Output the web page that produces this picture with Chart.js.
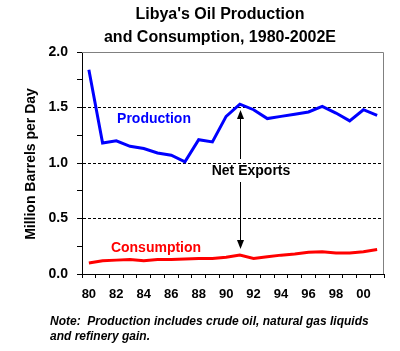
<!DOCTYPE html>
<html>
<head>
<meta charset="utf-8">
<script src="https://cdn.jsdelivr.net/npm/chart.js@4/dist/chart.umd.min.js"></script>
<style>
  html, body { margin: 0; padding: 0; background: #fff; }
  canvas { display: block; }
</style>
</head>
<body>
<canvas id="oilChart" width="400" height="351"></canvas>
<script>
// years 1980-2001, shown as two-digit labels
const years = ['80', '81', '82', '83', '84', '85', '86', '87', '88', '89', '90',
               '91', '92', '93', '94', '95', '96', '97', '98', '99', '00', '01'];
const production = [1.84, 1.18, 1.20, 1.15, 1.13, 1.09, 1.07, 1.01, 1.21, 1.19, 1.42,
                    1.53, 1.48, 1.40, 1.42, 1.44, 1.46, 1.51, 1.45, 1.38, 1.48, 1.43];
const consumption = [0.10, 0.12, 0.125, 0.13, 0.12, 0.13, 0.13, 0.135, 0.14, 0.14, 0.15,
                     0.17, 0.14, 0.155, 0.17, 0.18, 0.195, 0.20, 0.19, 0.19, 0.20, 0.22];
const dashedLevels = [0.5, 1.0, 1.5];

const titleLines = ["Libya's Oil Production", 'and Consumption, 1980-2002E'];
const yTitle = 'Million Barrels per Day';
const noteLines = ['Note:  Production includes crude oil, natural gas liquids', 'and refinery gain.'];

const FONT = '"Liberation Sans", Arial, sans-serif';

// Function to draw an arrow head pointing up (dir -1) or down (dir 1)
function arrowHead(ctx, x, tipY, dir) {
    ctx.beginPath();
    ctx.moveTo(x, tipY);
    ctx.lineTo(x - 3.5, tipY - dir * 9);
    ctx.lineTo(x + 3.5, tipY - dir * 9);
    ctx.closePath();
    ctx.fill();
}

const decorations = {
    id: 'decorations',
    afterDraw(chart) {
        const ctx = chart.ctx;
        const area = chart.chartArea;
        const x = chart.scales.x;
        ctx.save();

        // gray frame on top and right
        ctx.strokeStyle = '#808080';
        ctx.lineWidth = 1;
        ctx.beginPath();
        ctx.moveTo(area.left, area.top + 0.5);
        ctx.lineTo(area.right - 0.5, area.top + 0.5);
        ctx.lineTo(area.right - 0.5, area.bottom);
        ctx.stroke();

        // title
        ctx.fillStyle = '#000';
        ctx.textAlign = 'center';
        ctx.textBaseline = 'alphabetic';
        ctx.font = 'bold 16px ' + FONT;
        ctx.fillText(titleLines[0], 220, 19);
        ctx.fillText(titleLines[1], 220, 42);

        // y axis title
        ctx.save();
        ctx.translate(31, 164);
        ctx.rotate(-Math.PI / 2);
        ctx.textBaseline = 'middle';
        ctx.font = 'bold 14px ' + FONT;
        ctx.fillText(yTitle, 0, 0);
        ctx.restore();

        // series labels
        ctx.textBaseline = 'middle';
        ctx.font = 'bold 14px ' + FONT;
        ctx.fillStyle = '#0000ff';
        ctx.fillText('Production', 154, 119);
        ctx.fillStyle = '#ff0000';
        ctx.fillText('Consumption', 156, 248);
        ctx.fillStyle = '#000';
        ctx.fillText('Net Exports', 251, 171);

        // net exports arrows, between the two lines in 1991
        const ax = Math.round(x.getPixelForValue(11)) + 0.5;
        ctx.strokeStyle = '#000';
        ctx.lineWidth = 1;
        ctx.beginPath();
        ctx.moveTo(ax, 118);
        ctx.lineTo(ax, 159);
        ctx.moveTo(ax, 182);
        ctx.lineTo(ax, 241);
        ctx.stroke();
        arrowHead(ctx, ax, 110, -1);
        arrowHead(ctx, ax, 249, 1);

        // footnote
        ctx.textAlign = 'left';
        ctx.font = 'italic bold 12px ' + FONT;
        ctx.fillText(noteLines[0], 50, 322);
        ctx.fillText(noteLines[1], 50, 337);

        ctx.restore();
    }
};

const ctx = document.getElementById('oilChart').getContext('2d');
new Chart(ctx, {
    type: 'line',
    data: {
        labels: years,
        datasets: [{
            label: 'Production',
            data: production,
            borderColor: '#0000ff',
            borderWidth: 3,
            pointRadius: 0,
            tension: 0
        }, {
            label: 'Consumption',
            data: consumption,
            borderColor: '#ff0000',
            borderWidth: 3,
            pointRadius: 0,
            tension: 0
        }]
    },
    options: {
        responsive: false,
        animation: false,
        layout: { padding: { top: 52, right: 16, left: 0, bottom: 47 } },
        plugins: {
            legend: { display: false },
            tooltip: { enabled: false },
            title: { display: false }
        },
        scales: {
            x: {
                offset: true,
                grid: {
                    offset: true,
                    color: 'transparent',
                    tickColor: '#000',
                    tickLength: 4,
                    drawOnChartArea: false
                },
                border: { color: '#000', width: 1 },
                ticks: {
                    autoSkip: false,
                    maxRotation: 0,
                    padding: 9,
                    color: '#000',
                    font: { family: FONT, size: 13, weight: 'bold' },
                    callback: (val, i) => (i % 2 === 0 ? years[i] : '')
                },
                afterFit: scale => { scale.height = 30; }
            },
            y: {
                min: 0,
                max: 2,
                grid: {
                    color: c => (dashedLevels.includes(c.tick && c.tick.value) ? '#000' : 'transparent'),
                    tickColor: '#000',
                    tickLength: 5
                },
                border: { color: '#000', width: 1, dash: [3, 2] },
                ticks: {
                    stepSize: 0.25,
                    padding: 9,
                    color: '#000',
                    font: { family: FONT, size: 14, weight: 'bold' },
                    callback: v => (Math.abs(v * 2 - Math.round(v * 2)) < 1e-6 ? v.toFixed(1) : '')
                },
                afterFit: scale => { scale.width = 82; }
            }
        }
    },
    plugins: [decorations]
});
</script>
</body>
</html>
